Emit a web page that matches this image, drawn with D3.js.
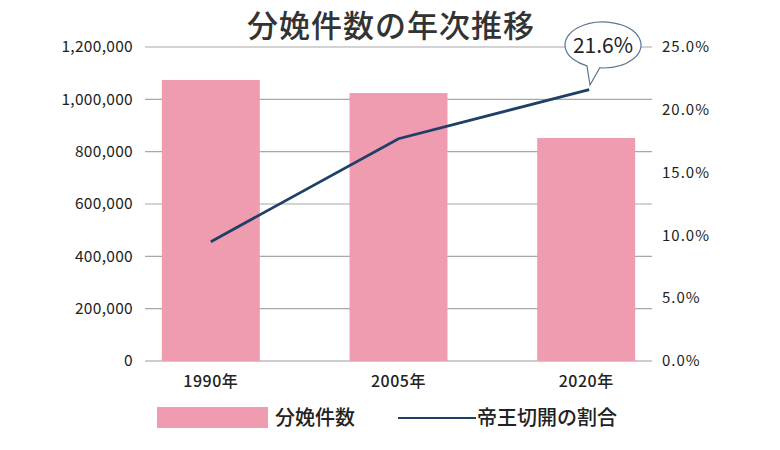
<!DOCTYPE html>
<html><head><meta charset="utf-8">
<script src="https://cdn.jsdelivr.net/npm/d3@7"></script>
<style>body{margin:0;background:#fff}svg{display:block}text{font-family:"Noto Sans CJK JP","Noto Sans",sans-serif}</style>
</head><body><svg id="c" width="780" height="450"></svg>
<script>
const categories = ["1990年", "2005年", "2020年"];
const births = [1074000, 1024000, 852000];
const csRate = [9.5, 17.7, 21.6];
const leftTicks = [0, 200000, 400000, 600000, 800000, 1000000, 1200000];
const rightTicks = [0, 5, 10, 15, 20, 25];
const title = "分娩件数の年次推移";
const legendLabels = ["分娩件数", "帝王切開の割合"];
const calloutText = "21.6%";

(function () {
const svg = d3.select("#c");
const pink = "#EF9BB0", navy = "#1E3F66", grid = "#a8a8a8";
const gx0 = 145, gx1 = 652, yTop = 47, yBottom = 361;

const x = d3.scaleBand().domain(categories).range([117, 680]).paddingInner(0.478).paddingOuter(0.239);
const yL = d3.scaleLinear().domain([0, 1200000]).range([yBottom, yTop]);
const yR = d3.scaleLinear().domain([0, 25]).range([yBottom, yTop]);

// gridlines
svg.append("g").selectAll("line").data(leftTicks).join("line")
  .attr("x1", gx0).attr("x2", gx1)
  .attr("y1", d => yL(d)).attr("y2", d => yL(d))
  .attr("stroke", d => d === 0 ? "#999" : grid).attr("stroke-width", 1.2);

// left labels
svg.append("g").selectAll("text").data(leftTicks).join("text")
  .attr("x", 133).attr("y", d => yL(d)).attr("dy", "0.35em")
  .attr("text-anchor", "end").attr("font-size", 15.5).attr("fill", "#222")
  .attr("letter-spacing", "0.3px")
  .text(d => d3.format(",")(d));

// right labels
svg.append("g").selectAll("text").data(rightTicks).join("text")
  .attr("x", 662).attr("y", d => yR(d)).attr("dy", "0.35em")
  .attr("text-anchor", "start").attr("font-size", 15).attr("fill", "#222")
  .attr("letter-spacing", "1px")
  .text(d => d.toFixed(1) + "%");

// bars
svg.append("g").selectAll("rect").data(births).join("rect")
  .attr("x", (d, i) => x(categories[i])).attr("width", x.bandwidth())
  .attr("y", d => yL(d)).attr("height", d => yBottom - yL(d))
  .attr("fill", pink);

// x labels
svg.append("g").selectAll("text").data(categories).join("text")
  .attr("x", d => x(d) + x.bandwidth() / 2).attr("y", 381).attr("dy", "0.35em")
  .attr("text-anchor", "middle").attr("font-size", 16).attr("font-weight", 500).attr("fill", "#222")
  .attr("letter-spacing", "0.5px")
  .text(d => d);

// line
const line = d3.line().x((d, i) => x(categories[i]) + x.bandwidth() / 2 + (i === 2 ? 3 : 0)).y(d => yR(d));
svg.append("path").datum(csRate).attr("d", line)
  .attr("fill", "none").attr("stroke", navy).attr("stroke-width", 2.8);

// callout
const cx = 603, cy = 45, rx = 38, ry = 23;
const pt = a => [cx + rx * Math.cos(a * Math.PI / 180), cy + ry * Math.sin(a * Math.PI / 180)];
const bR = pt(95), bL = pt(115), tip = [590, 85];
svg.append("path")
  .attr("d", `M${bR[0]},${bR[1]} A${rx},${ry} 0 1 0 ${bL[0]},${bL[1]} L${tip[0]},${tip[1]} Z`)
  .attr("fill", "#fff").attr("stroke", "#5b7896").attr("stroke-width", 1.2);
svg.append("text").attr("x", cx).attr("y", cy).attr("dy", "0.36em")
  .attr("text-anchor", "middle").attr("font-size", 21).attr("fill", "#222").text(calloutText);

// title
svg.append("text").attr("x", 391).attr("y", 26).attr("dy", "0.36em")
  .attr("text-anchor", "middle").attr("font-size", 31).attr("font-weight", 500)
  .attr("fill", "#333").attr("letter-spacing", "1px").text(title);

// legend
svg.append("rect").attr("x", 157).attr("y", 407).attr("width", 111).attr("height", 21).attr("fill", pink);
svg.append("text").attr("x", 275).attr("y", 418).attr("dy", "0.36em").attr("font-size", 20).attr("font-weight", 500).attr("fill", "#222").text(legendLabels[0]);
svg.append("line").attr("x1", 398).attr("x2", 476).attr("y1", 418).attr("y2", 418).attr("stroke", navy).attr("stroke-width", 2);
svg.append("text").attr("x", 477).attr("y", 418).attr("dy", "0.36em").attr("font-size", 20).attr("font-weight", 500).attr("fill", "#222").text(legendLabels[1]);
})();
</script></body></html>
